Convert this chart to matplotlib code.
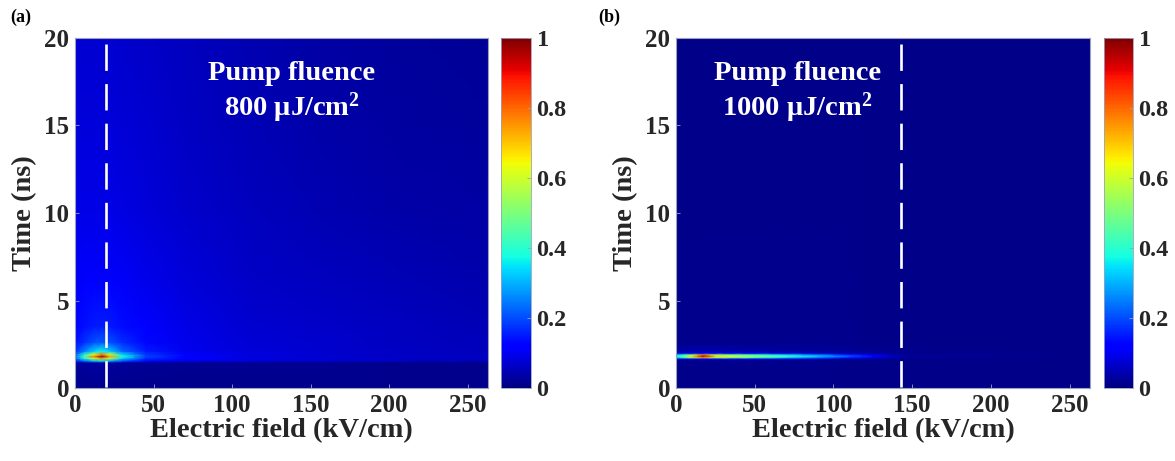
import numpy as np
import matplotlib
matplotlib.use("Agg")
import matplotlib.pyplot as plt

# ---------------- data ----------------
# Panel (a): pump fluence 800 uJ/cm^2  (normalised signal on a coarse, non-uniform grid)
field_a = [0, 6, 12, 17, 22, 30, 45, 70, 110, 160, 210, 263]          # kV/cm
time_a = [0, 1.45, 1.55, 1.7, 1.8, 1.9, 2.1, 2.6, 3.5, 6, 10, 15, 20]  # ns
signal_a = [
    [0.014, 0.014, 0.014, 0.014, 0.014, 0.014, 0.014, 0.014, 0.014, 0.014, 0.014, 0.014],
    [0.025, 0.030, 0.035, 0.035, 0.030, 0.025, 0.020, 0.018, 0.017, 0.016, 0.015, 0.015],
    [0.150, 0.220, 0.300, 0.340, 0.290, 0.200, 0.130, 0.090, 0.075, 0.065, 0.058, 0.052],
    [0.220, 0.380, 0.600, 0.740, 0.580, 0.330, 0.170, 0.110, 0.085, 0.072, 0.062, 0.055],
    [0.240, 0.440, 0.790, 1.000, 0.760, 0.390, 0.190, 0.115, 0.088, 0.074, 0.064, 0.056],
    [0.220, 0.400, 0.640, 0.800, 0.620, 0.350, 0.180, 0.110, 0.085, 0.072, 0.062, 0.055],
    [0.170, 0.250, 0.330, 0.370, 0.330, 0.230, 0.150, 0.100, 0.082, 0.070, 0.060, 0.053],
    [0.140, 0.175, 0.205, 0.215, 0.205, 0.170, 0.130, 0.095, 0.078, 0.067, 0.058, 0.051],
    [0.125, 0.140, 0.150, 0.155, 0.150, 0.135, 0.115, 0.090, 0.074, 0.064, 0.055, 0.048],
    [0.105, 0.112, 0.117, 0.117, 0.114, 0.106, 0.095, 0.080, 0.066, 0.056, 0.047, 0.040],
    [0.092, 0.093, 0.093, 0.092, 0.091, 0.088, 0.082, 0.070, 0.057, 0.046, 0.038, 0.032],
    [0.082, 0.082, 0.081, 0.080, 0.079, 0.077, 0.072, 0.062, 0.049, 0.038, 0.031, 0.026],
    [0.075, 0.074, 0.073, 0.072, 0.071, 0.069, 0.064, 0.055, 0.043, 0.033, 0.027, 0.022],
]

# Panel (b): pump fluence 1000 uJ/cm^2
field_b = [0, 5, 10, 17, 25, 35, 50, 70, 90, 110, 125, 145, 263]
time_b = [0, 1.58, 1.66, 1.75, 1.83, 1.91, 2.0, 2.12, 2.6, 20]
signal_b = [
    [0.010, 0.010, 0.010, 0.010, 0.010, 0.010, 0.010, 0.010, 0.010, 0.010, 0.010, 0.010, 0.010],
    [0.012, 0.012, 0.013, 0.013, 0.013, 0.013, 0.012, 0.012, 0.012, 0.011, 0.011, 0.010, 0.010],
    [0.070, 0.080, 0.095, 0.110, 0.100, 0.095, 0.085, 0.072, 0.055, 0.038, 0.026, 0.012, 0.010],
    [0.310, 0.390, 0.520, 0.760, 0.540, 0.490, 0.410, 0.330, 0.240, 0.150, 0.085, 0.020, 0.010],
    [0.400, 0.500, 0.660, 0.990, 0.680, 0.620, 0.540, 0.440, 0.320, 0.210, 0.115, 0.025, 0.010],
    [0.310, 0.390, 0.520, 0.760, 0.540, 0.490, 0.410, 0.330, 0.240, 0.150, 0.085, 0.020, 0.010],
    [0.075, 0.085, 0.100, 0.115, 0.105, 0.100, 0.090, 0.076, 0.060, 0.042, 0.029, 0.014, 0.010],
    [0.035, 0.038, 0.040, 0.042, 0.040, 0.038, 0.035, 0.030, 0.026, 0.020, 0.016, 0.012, 0.010],
    [0.015, 0.015, 0.015, 0.015, 0.015, 0.015, 0.015, 0.014, 0.013, 0.012, 0.011, 0.010, 0.010],
    [0.010, 0.010, 0.010, 0.010, 0.010, 0.010, 0.010, 0.010, 0.010, 0.010, 0.010, 0.010, 0.010],
]

threshold_a = 20     # kV/cm, dashed line
threshold_b = 143    # kV/cm, dashed line
fluence_labels = ["Pump fluence\n800 μJ/cm$^{\\mathbf{2}}$", "Pump fluence\n1000 μJ/cm$^{\\mathbf{2}}$"]
panel_labels = ["(a)", "(b)"]
x_ticks = [0, 50, 100, 150, 200, 250]
y_ticks = [0, 5, 10, 15, 20]
cb_ticks = [0, 0.2, 0.4, 0.6, 0.8, 1]
cb_ticklabels = ["0", "0.2", "0.4", "0.6", "0.8", "1"]
x_max = 263
y_max = 20

# ---------------- figure ----------------
plt.rcParams['font.family'] = ['Liberation Serif', 'DejaVu Serif']
plt.rcParams['font.weight'] = 'bold'
plt.rcParams['mathtext.fontset'] = 'custom'
plt.rcParams['mathtext.rm'] = 'Liberation Serif:bold'
plt.rcParams['mathtext.bf'] = 'Liberation Serif:bold'
plt.rcParams['mathtext.it'] = 'Liberation Serif:bold'

W, H = 1175, 461
fig = plt.figure(figsize=(W / 100, H / 100), dpi=100)

def fx(px):
    return px / W

def fy(py):
    return 1 - py / H

layouts = [
    dict(ax=(75, 38, 488, 388), cb=(501, 38, 531, 388), lab=(10, 17), txt=138),
    dict(ax=(676, 38, 1090, 388), cb=(1104, 38, 1133, 388), lab=(598, 17), txt=77),
]
datasets = [(field_a, time_a, signal_a, threshold_a), (field_b, time_b, signal_b, threshold_b)]

spine_col = '#9aa2bc'
text_col = '#262626'

for i, (lay, (fe, tm, sig, thr)) in enumerate(zip(layouts, datasets)):
    l, t, r, b = lay['ax']
    ax = fig.add_axes([fx(l), fy(b), fx(r) - fx(l), fy(t) - fy(b)])
    X, Y = np.meshgrid(np.array(fe, float), np.array(tm, float))
    mesh = ax.pcolormesh(X, Y, np.array(sig, float), shading='gouraud',
                         cmap='jet', vmin=0, vmax=1, rasterized=True)
    ax.set_xlim(0, x_max)
    ax.set_ylim(0, y_max)
    ax.plot([thr, thr], [y_max - 0.35, 0], color='white', lw=1.9,
            linestyle=(0, (10, 5)), solid_capstyle='butt', dash_capstyle='butt')
    ax.text(lay['txt'], 16.85, fluence_labels[i], color='white', ha='center',
            va='center', fontsize=20.5, fontweight='bold', linespacing=1.17)
    ax.set_xticks(x_ticks)
    ax.set_yticks(y_ticks)
    ax.tick_params(direction='in', length=3, width=0.6, color=spine_col,
                   labelsize=18, labelcolor=text_col, pad=4)
    for lab in ax.get_xticklabels() + ax.get_yticklabels():
        lab.set_fontweight('bold')
    for s in ax.spines.values():
        s.set_color(spine_col)
        s.set_linewidth(0.8)
    ax.set_xlabel("Electric field (kV/cm)", fontsize=20.5, fontweight='bold',
                  color=text_col, labelpad=1)
    ax.set_ylabel("Time (ns)", fontsize=20.5, fontweight='bold',
                  color=text_col, labelpad=5)

    cl, ct, cr, cbm = lay['cb']
    cax = fig.add_axes([fx(cl), fy(cbm), fx(cr) - fx(cl), fy(ct) - fy(cbm)])
    cbar = fig.colorbar(mesh, cax=cax, ticks=cb_ticks)
    cbar.ax.set_yticklabels(cb_ticklabels)
    cbar.outline.set_edgecolor(spine_col)
    cbar.outline.set_linewidth(0.6)
    cax.tick_params(direction='in', length=3, width=0.6, color=spine_col,
                    labelsize=17.5, labelcolor=text_col, pad=4)
    for lab in cax.get_yticklabels():
        lab.set_fontweight('bold')

    fig.text(fx(lay['lab'][0]), fy(lay['lab'][1]), panel_labels[i], fontsize=13,
             fontweight='bold', color='black', ha='left', va='center')

fig.savefig("out.png", dpi=100)
